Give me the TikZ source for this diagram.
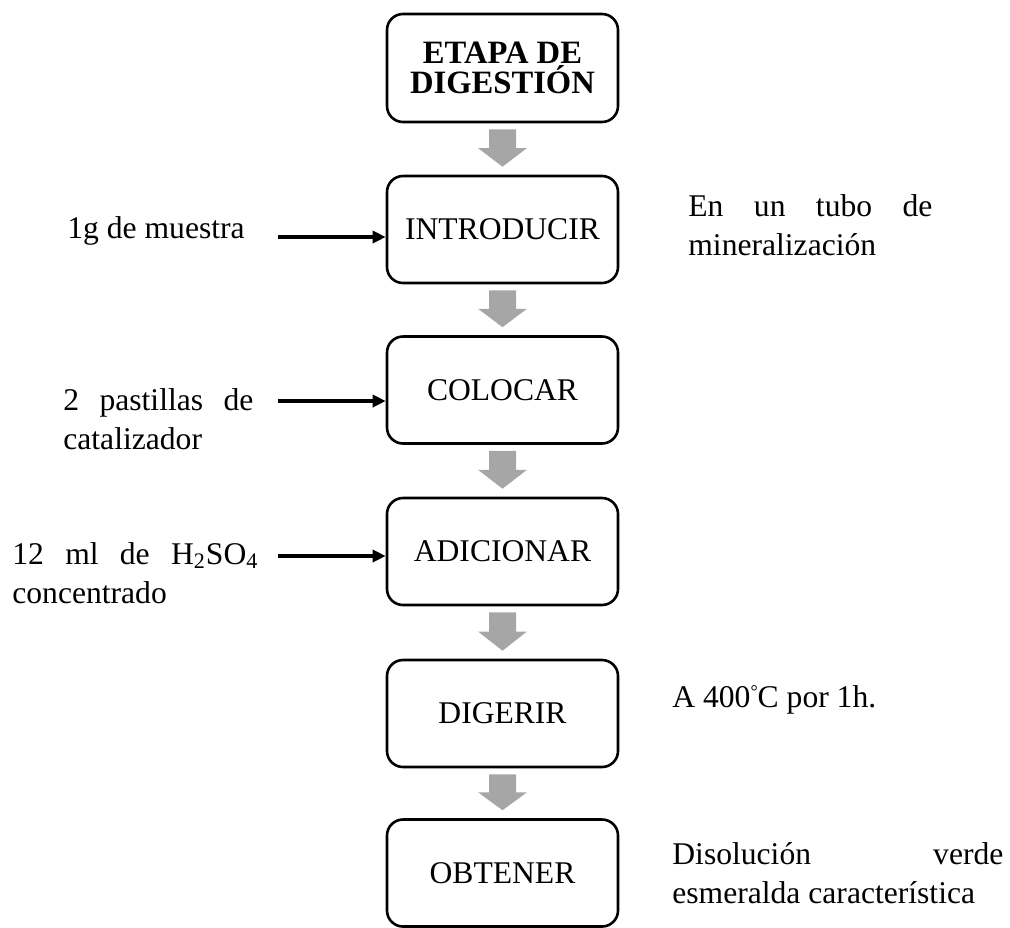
\documentclass[tikz,border=0pt]{standalone}
\usepackage{fontspec}
\setmainfont{Liberation Serif}
\usetikzlibrary{arrows.meta,calc}
\definecolor{arrgray}{RGB}{166,166,166}
\begin{document}
\begin{tikzpicture}[x=0.5pt,y=-0.5pt,
  box/.style={draw,line width=1.3pt,rounded corners=8pt,minimum width=115.5pt,
    minimum height=53.5pt,inner sep=0pt,font=\fontsize{15.8}{18}\selectfont},
  lbl/.style={anchor=base west,inner sep=0pt,align=left,font=\fontsize{15.8}{19.5}\selectfont},
  inarrow/.style={line width=2pt,-{Triangle[length=6.5pt,width=6pt]}},
  garrow/.style={fill=arrgray}]
\useasboundingbox (0,0) rectangle (1010,927);
% boxes
\node[box,align=center,minimum height=54pt,font=\bfseries\fontsize{16.3}{15}\selectfont] (b0) at (502.5,68) {ETAPA DE\\DIGESTIÓN};
\node[box] (b1) at (502.5,229.5) {INTRODUCIR};
\node[box] (b2) at (502.5,390) {COLOCAR};
\node[box] (b3) at (502.5,551.5) {ADICIONAR};
\node[box] (b4) at (502.5,713.5) {DIGERIR};
\node[box] (b5) at (502.5,873) {OBTENER};
% gray arrows
\foreach \a/\b in {b0/b1,b1/b2,b2/b3,b3/b4,b4/b5}{
  \coordinate (p) at ($(\a.south)+(0,6)$);
  \coordinate (q) at ($(\b.north)+(0,-8)$);
  \coordinate (m) at ($(p)!0.5!(q)$);
  \fill[garrow] ($(p)+(-13.5,0)$) -- ($(p)+(13.5,0)$) -- ($(m)+(13.5,0)$) -- ($(m)+(24.5,0)$)
    -- (q) -- ($(m)+(-24.5,0)$) -- ($(m)+(-13.5,0)$) -- cycle;
}
% input arrows
\coordinate (s1) at (278,237);
\coordinate (s2) at (278,401);
\coordinate (s3) at (278,556);
\draw[inarrow] (s1) -- (s1 -| b1.west);
\draw[inarrow] (s2) -- (s2 -| b2.west);
\draw[inarrow] (s3) -- (s3 -| b3.west);
% labels (base anchor = baseline of last line)
\node[lbl] (t1) at (67,238) {1g de muestra};
\node[lbl] (t2) at (63,449) {\makebox[95pt][s]{2 pastillas de}\\catalizador};
\node[lbl] (t3) at (12,603) {\makebox[123pt][s]{12 ml de H\textsubscript{2}SO\textsubscript{4}}\\concentrado};
\node[lbl] (t4) at (688,255) {\makebox[122pt][s]{En un tubo de}\\mineralización};
\node[lbl] (t5) at (672,707) {A 400\raisebox{5pt}{\fontsize{9}{9}\selectfont °}C por 1h.};
\node[lbl] (t6) at (672,903) {\makebox[165.5pt][s]{Disolución verde}\\esmeralda característica};
\end{tikzpicture}
\end{document}
